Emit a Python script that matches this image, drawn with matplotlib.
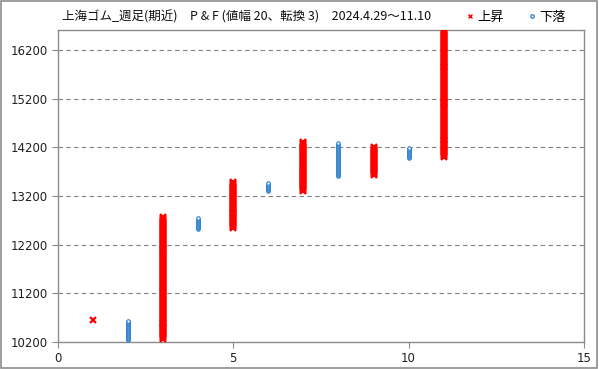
import numpy as np
import matplotlib
matplotlib.use("Agg")
import matplotlib.pyplot as plt
from matplotlib.lines import Line2D

plt.rcParams['font.family'] = ['Noto Sans CJK JP', 'DejaVu Sans']

# P&F columns: (column no, start price, end price)
box = 20
x_cols = [1, 3, 5, 7, 9, 11]
x_start = [10660, 10260, 12540, 13300, 13640, 14000]
x_end = [10660, 12760, 13480, 14300, 14200, 16600]
o_cols = [2, 4, 6, 8, 10]
o_start = [10640, 12740, 13460, 14280, 14180]
o_end = [10240, 12520, 13300, 13620, 13980]

title = "上海ゴム_週足(期近)　P & F (値幅 20、転換 3)　2024.4.29～11.10"
yticks = [10200, 11200, 12200, 13200, 14200, 15200, 16200]
xticks = [0, 5, 10, 15]

red = '#ff0000'
blue = '#2a7fcf'

fig = plt.figure(figsize=(5.99, 3.69), dpi=100)
ax = fig.add_axes([0.0968, 0.0732, 0.878, 0.8455])

# expand columns into boxes
for c, s, e in zip(x_cols, x_start, x_end):
    ys = np.arange(min(s, e), max(s, e) + 1, box)
    ax.plot([c] * len(ys), ys, ls='none', marker='x', ms=4.6, mew=1.6,
            color=red, clip_on=True, zorder=3)
for c, s, e in zip(o_cols, o_start, o_end):
    ys = np.arange(min(s, e), max(s, e) + 1, box)
    ax.plot([c] * len(ys), ys, ls='none', marker='o', ms=2.5, mew=0.8,
            color=blue, mfc='white', zorder=3)

ax.set_xlim(0, 15)
ax.set_ylim(10200, 16610)
ax.set_xticks(xticks)
ax.set_yticks(yticks)
ax.yaxis.grid(True, ls=(0, (4, 3)), color='#808080', lw=0.8)
ax.set_axisbelow(True)
for sp in ax.spines.values():
    sp.set_color('#8c8c8c')
    sp.set_linewidth(1)
ax.tick_params(direction='out', length=4, color='#8c8c8c', labelsize=8.5,
               labelcolor='#202020')
for lab in ax.get_xticklabels() + ax.get_yticklabels():
    lab.set_fontfamily('DejaVu Sans')

fig.text(62 / 599, 1 - 17 / 369, title, fontsize=9, va='center', ha='left',
         color='#101010')

handles = [
    Line2D([], [], ls='none', marker='x', ms=3.5, mew=1.0, color=red, label='上昇'),
    Line2D([], [], ls='none', marker='o', ms=2.5, mew=0.9, color=blue, mfc='white', label='下落'),
]
fig.legend(handles=handles, ncol=2, frameon=False, loc='center right',
           bbox_to_anchor=(0.965, 1 - 17 / 369), fontsize=9.5,
           handletextpad=0.1, columnspacing=1.6, handlelength=1.0)

# outer chart border
fig.patches.append(plt.Rectangle((0.002, 0.003), 0.995, 0.994, transform=fig.transFigure,
                                 fill=False, edgecolor='#8c8c8c', lw=1.2))

fig.savefig('out.png', dpi=100)
